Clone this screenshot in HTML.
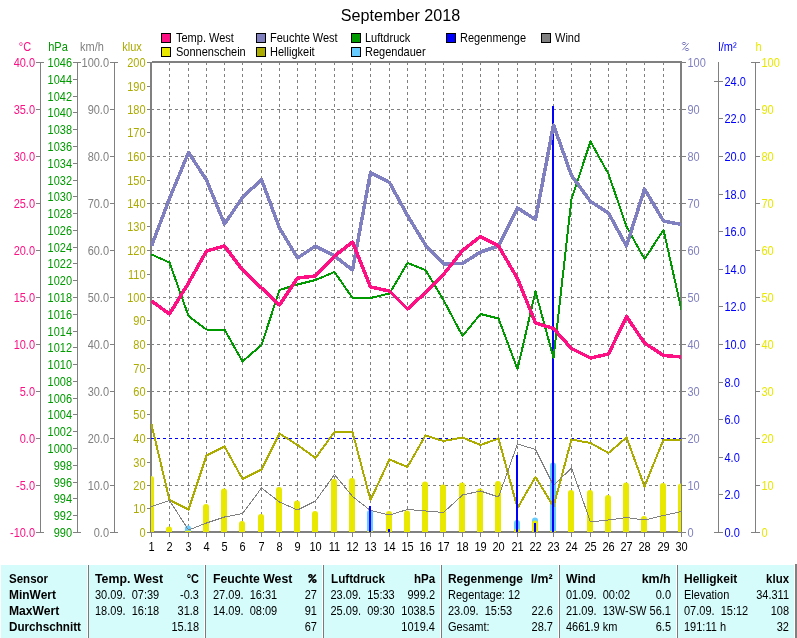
<!DOCTYPE html>
<html><head><meta charset="utf-8"><title>September 2018</title>
<style>
html,body{margin:0;padding:0;background:#fff;}
body{width:797px;height:638px;overflow:hidden;position:relative;font-family:"Liberation Sans",sans-serif;}
#chart{position:absolute;left:0;top:0;will-change:transform;}
#chart text{font-family:"Liberation Sans",sans-serif;font-size:11px;}
#title{will-change:transform;position:absolute;left:0;top:6px;width:801px;text-align:center;font-size:16.15px;line-height:19px;color:#000;}
.lg{will-change:transform;position:absolute;font-size:11px;line-height:12px;color:#000;white-space:nowrap;}
.lg span{display:block;transform:scale(1,1.125);transform-origin:0 10px;}
.lg i{position:absolute;left:-15px;top:1px;width:8px;height:8px;border:1px solid #000;}
#tblbg{position:absolute;left:1px;top:565px;width:793px;height:73px;background:#D5FBFB;}
#tbledge{position:absolute;left:795px;top:564px;width:2px;height:74px;background:#808080;}
#tbl{position:absolute;left:1px;top:565px;width:794px;height:73px;font-size:11px;will-change:transform;}
#tbl .col{position:absolute;top:0;height:73px;border-left:1px solid #7A7A7A;box-shadow:-1px 0 0 #fff;}
#tbl .r{position:absolute;left:6px;right:6px;height:16px;line-height:16px;white-space:nowrap;transform:scale(1,1.125);transform-origin:0 12px;}
#tbl .r b{font-weight:bold;display:inline-block;}
#tbl .r span{position:absolute;right:0;top:0;}
</style></head><body>
<svg id="chart" width="797" height="565" viewBox="0 0 797 565">
<g shape-rendering="crispEdges" fill="#808080">
<rect x="150" y="62" width="2" height="471"/>
<rect x="152" y="61" width="530" height="2"/>
<rect x="680" y="61" width="2" height="472"/>
<rect x="150" y="531" width="532" height="2"/>
<rect x="151" y="533" width="1" height="4"/>
<rect x="169" y="533" width="1" height="4"/>
<rect x="188" y="533" width="1" height="4"/>
<rect x="206" y="533" width="1" height="4"/>
<rect x="224" y="533" width="1" height="4"/>
<rect x="242" y="533" width="1" height="4"/>
<rect x="261" y="533" width="1" height="4"/>
<rect x="279" y="533" width="1" height="4"/>
<rect x="297" y="533" width="1" height="4"/>
<rect x="315" y="533" width="1" height="4"/>
<rect x="334" y="533" width="1" height="4"/>
<rect x="352" y="533" width="1" height="4"/>
<rect x="370" y="533" width="1" height="4"/>
<rect x="389" y="533" width="1" height="4"/>
<rect x="407" y="533" width="1" height="4"/>
<rect x="425" y="533" width="1" height="4"/>
<rect x="443" y="533" width="1" height="4"/>
<rect x="462" y="533" width="1" height="4"/>
<rect x="480" y="533" width="1" height="4"/>
<rect x="498" y="533" width="1" height="4"/>
<rect x="517" y="533" width="1" height="4"/>
<rect x="535" y="533" width="1" height="4"/>
<rect x="553" y="533" width="1" height="4"/>
<rect x="571" y="533" width="1" height="4"/>
<rect x="590" y="533" width="1" height="4"/>
<rect x="608" y="533" width="1" height="4"/>
<rect x="626" y="533" width="1" height="4"/>
<rect x="644" y="533" width="1" height="4"/>
<rect x="663" y="533" width="1" height="4"/>
<rect x="681" y="533" width="1" height="4"/>
<rect x="147" y="62" width="3" height="1"/>
<rect x="147" y="86" width="3" height="1"/>
<rect x="147" y="109" width="3" height="1"/>
<rect x="147" y="132" width="3" height="1"/>
<rect x="147" y="156" width="3" height="1"/>
<rect x="147" y="180" width="3" height="1"/>
<rect x="147" y="203" width="3" height="1"/>
<rect x="147" y="226" width="3" height="1"/>
<rect x="147" y="250" width="3" height="1"/>
<rect x="147" y="274" width="3" height="1"/>
<rect x="147" y="297" width="3" height="1"/>
<rect x="147" y="320" width="3" height="1"/>
<rect x="147" y="344" width="3" height="1"/>
<rect x="147" y="368" width="3" height="1"/>
<rect x="147" y="391" width="3" height="1"/>
<rect x="147" y="414" width="3" height="1"/>
<rect x="147" y="438" width="3" height="1"/>
<rect x="147" y="462" width="3" height="1"/>
<rect x="147" y="485" width="3" height="1"/>
<rect x="147" y="508" width="3" height="1"/>
<rect x="147" y="532" width="3" height="1"/>
<rect x="682" y="62" width="4" height="1"/>
<rect x="682" y="109" width="4" height="1"/>
<rect x="682" y="156" width="4" height="1"/>
<rect x="682" y="203" width="4" height="1"/>
<rect x="682" y="250" width="4" height="1"/>
<rect x="682" y="297" width="4" height="1"/>
<rect x="682" y="344" width="4" height="1"/>
<rect x="682" y="391" width="4" height="1"/>
<rect x="682" y="438" width="4" height="1"/>
<rect x="682" y="485" width="4" height="1"/>
<rect x="682" y="532" width="4" height="1"/>
<rect x="40" y="62" width="1" height="471"/>
<rect x="36" y="62" width="8" height="1"/>
<rect x="36" y="109" width="4" height="1"/>
<rect x="36" y="156" width="4" height="1"/>
<rect x="36" y="203" width="4" height="1"/>
<rect x="36" y="250" width="4" height="1"/>
<rect x="36" y="297" width="4" height="1"/>
<rect x="36" y="344" width="4" height="1"/>
<rect x="36" y="391" width="4" height="1"/>
<rect x="36" y="438" width="4" height="1"/>
<rect x="36" y="485" width="4" height="1"/>
<rect x="36" y="532" width="8" height="1"/>
<rect x="77" y="62" width="1" height="471"/>
<rect x="73" y="62" width="8" height="1"/>
<rect x="73" y="79" width="4" height="1"/>
<rect x="73" y="96" width="4" height="1"/>
<rect x="73" y="112" width="4" height="1"/>
<rect x="73" y="129" width="4" height="1"/>
<rect x="73" y="146" width="4" height="1"/>
<rect x="73" y="163" width="4" height="1"/>
<rect x="73" y="180" width="4" height="1"/>
<rect x="73" y="196" width="4" height="1"/>
<rect x="73" y="213" width="4" height="1"/>
<rect x="73" y="230" width="4" height="1"/>
<rect x="73" y="247" width="4" height="1"/>
<rect x="73" y="263" width="4" height="1"/>
<rect x="73" y="280" width="4" height="1"/>
<rect x="73" y="297" width="4" height="1"/>
<rect x="73" y="314" width="4" height="1"/>
<rect x="73" y="331" width="4" height="1"/>
<rect x="73" y="347" width="4" height="1"/>
<rect x="73" y="364" width="4" height="1"/>
<rect x="73" y="381" width="4" height="1"/>
<rect x="73" y="398" width="4" height="1"/>
<rect x="73" y="414" width="4" height="1"/>
<rect x="73" y="431" width="4" height="1"/>
<rect x="73" y="448" width="4" height="1"/>
<rect x="73" y="465" width="4" height="1"/>
<rect x="73" y="482" width="4" height="1"/>
<rect x="73" y="498" width="4" height="1"/>
<rect x="73" y="515" width="4" height="1"/>
<rect x="73" y="532" width="8" height="1"/>
<rect x="114" y="62" width="1" height="471"/>
<rect x="110" y="62" width="8" height="1"/>
<rect x="110" y="109" width="4" height="1"/>
<rect x="110" y="156" width="4" height="1"/>
<rect x="110" y="203" width="4" height="1"/>
<rect x="110" y="250" width="4" height="1"/>
<rect x="110" y="297" width="4" height="1"/>
<rect x="110" y="344" width="4" height="1"/>
<rect x="110" y="391" width="4" height="1"/>
<rect x="110" y="438" width="4" height="1"/>
<rect x="110" y="485" width="4" height="1"/>
<rect x="110" y="532" width="8" height="1"/>
<rect x="718" y="62" width="1" height="471"/>
<rect x="714" y="532" width="9" height="1"/>
<rect x="719" y="494" width="4" height="1"/>
<rect x="719" y="457" width="4" height="1"/>
<rect x="719" y="419" width="4" height="1"/>
<rect x="719" y="382" width="4" height="1"/>
<rect x="719" y="344" width="4" height="1"/>
<rect x="719" y="306" width="4" height="1"/>
<rect x="719" y="269" width="4" height="1"/>
<rect x="719" y="231" width="4" height="1"/>
<rect x="719" y="194" width="4" height="1"/>
<rect x="719" y="156" width="4" height="1"/>
<rect x="719" y="118" width="4" height="1"/>
<rect x="714" y="81" width="9" height="1"/>
<rect x="755" y="62" width="1" height="471"/>
<rect x="751" y="62" width="9" height="1"/>
<rect x="756" y="109" width="4" height="1"/>
<rect x="756" y="156" width="4" height="1"/>
<rect x="756" y="203" width="4" height="1"/>
<rect x="756" y="250" width="4" height="1"/>
<rect x="756" y="297" width="4" height="1"/>
<rect x="756" y="344" width="4" height="1"/>
<rect x="756" y="391" width="4" height="1"/>
<rect x="756" y="438" width="4" height="1"/>
<rect x="756" y="485" width="4" height="1"/>
<rect x="751" y="532" width="9" height="1"/>
</g>
<g shape-rendering="crispEdges">
<line x1="169.5" y1="62" x2="169.5" y2="531" stroke="#808080" stroke-width="1" stroke-dasharray="3,3"/>
<line x1="188.5" y1="62" x2="188.5" y2="531" stroke="#808080" stroke-width="1" stroke-dasharray="3,3"/>
<line x1="206.5" y1="62" x2="206.5" y2="531" stroke="#808080" stroke-width="1" stroke-dasharray="3,3"/>
<line x1="224.5" y1="62" x2="224.5" y2="531" stroke="#808080" stroke-width="1" stroke-dasharray="3,3"/>
<line x1="242.5" y1="62" x2="242.5" y2="531" stroke="#808080" stroke-width="1" stroke-dasharray="3,3"/>
<line x1="261.5" y1="62" x2="261.5" y2="531" stroke="#808080" stroke-width="1" stroke-dasharray="3,3"/>
<line x1="279.5" y1="62" x2="279.5" y2="531" stroke="#808080" stroke-width="1" stroke-dasharray="3,3"/>
<line x1="297.5" y1="62" x2="297.5" y2="531" stroke="#808080" stroke-width="1" stroke-dasharray="3,3"/>
<line x1="315.5" y1="62" x2="315.5" y2="531" stroke="#808080" stroke-width="1" stroke-dasharray="3,3"/>
<line x1="334.5" y1="62" x2="334.5" y2="531" stroke="#808080" stroke-width="1" stroke-dasharray="3,3"/>
<line x1="352.5" y1="62" x2="352.5" y2="531" stroke="#808080" stroke-width="1" stroke-dasharray="3,3"/>
<line x1="370.5" y1="62" x2="370.5" y2="531" stroke="#808080" stroke-width="1" stroke-dasharray="3,3"/>
<line x1="389.5" y1="62" x2="389.5" y2="531" stroke="#808080" stroke-width="1" stroke-dasharray="3,3"/>
<line x1="407.5" y1="62" x2="407.5" y2="531" stroke="#808080" stroke-width="1" stroke-dasharray="3,3"/>
<line x1="425.5" y1="62" x2="425.5" y2="531" stroke="#808080" stroke-width="1" stroke-dasharray="3,3"/>
<line x1="443.5" y1="62" x2="443.5" y2="531" stroke="#808080" stroke-width="1" stroke-dasharray="3,3"/>
<line x1="462.5" y1="62" x2="462.5" y2="531" stroke="#808080" stroke-width="1" stroke-dasharray="3,3"/>
<line x1="480.5" y1="62" x2="480.5" y2="531" stroke="#808080" stroke-width="1" stroke-dasharray="3,3"/>
<line x1="498.5" y1="62" x2="498.5" y2="531" stroke="#808080" stroke-width="1" stroke-dasharray="3,3"/>
<line x1="517.5" y1="62" x2="517.5" y2="531" stroke="#808080" stroke-width="1" stroke-dasharray="3,3"/>
<line x1="535.5" y1="62" x2="535.5" y2="531" stroke="#808080" stroke-width="1" stroke-dasharray="3,3"/>
<line x1="553.5" y1="62" x2="553.5" y2="531" stroke="#808080" stroke-width="1" stroke-dasharray="3,3"/>
<line x1="571.5" y1="62" x2="571.5" y2="531" stroke="#808080" stroke-width="1" stroke-dasharray="3,3"/>
<line x1="590.5" y1="62" x2="590.5" y2="531" stroke="#808080" stroke-width="1" stroke-dasharray="3,3"/>
<line x1="608.5" y1="62" x2="608.5" y2="531" stroke="#808080" stroke-width="1" stroke-dasharray="3,3"/>
<line x1="626.5" y1="62" x2="626.5" y2="531" stroke="#808080" stroke-width="1" stroke-dasharray="3,3"/>
<line x1="644.5" y1="62" x2="644.5" y2="531" stroke="#808080" stroke-width="1" stroke-dasharray="3,3"/>
<line x1="663.5" y1="62" x2="663.5" y2="531" stroke="#808080" stroke-width="1" stroke-dasharray="3,3"/>
<line x1="151" y1="109.5" x2="680" y2="109.5" stroke="#808080" stroke-width="1" stroke-dasharray="3,3"/>
<line x1="151" y1="156.5" x2="680" y2="156.5" stroke="#808080" stroke-width="1" stroke-dasharray="3,3"/>
<line x1="151" y1="203.5" x2="680" y2="203.5" stroke="#808080" stroke-width="1" stroke-dasharray="3,3"/>
<line x1="151" y1="250.5" x2="680" y2="250.5" stroke="#808080" stroke-width="1" stroke-dasharray="3,3"/>
<line x1="151" y1="297.5" x2="680" y2="297.5" stroke="#808080" stroke-width="1" stroke-dasharray="3,3"/>
<line x1="151" y1="344.5" x2="680" y2="344.5" stroke="#808080" stroke-width="1" stroke-dasharray="3,3"/>
<line x1="151" y1="391.5" x2="680" y2="391.5" stroke="#808080" stroke-width="1" stroke-dasharray="3,3"/>
<line x1="151" y1="438.5" x2="680" y2="438.5" stroke="#808080" stroke-width="1" stroke-dasharray="3,3"/>
<line x1="151" y1="485.5" x2="680" y2="485.5" stroke="#808080" stroke-width="1" stroke-dasharray="3,3"/>
</g>
<clipPath id="cp"><rect x="151" y="63" width="530" height="469"/></clipPath>
<g clip-path="url(#cp)">
<line x1="151" y1="438.5" x2="681" y2="438.5" stroke="#0000FF" stroke-width="1" stroke-dasharray="3,3" shape-rendering="crispEdges"/>
<path d="M185 532 V528.5 A3 3 0 0 1 191 528.5 V532 Z" fill="#66CCFF"/>
<path d="M367 532 V513 A3 3 0 0 1 373 513 V532 Z" fill="#66CCFF"/>
<path d="M514 532 V523 A3 3 0 0 1 520 523 V532 Z" fill="#66CCFF"/>
<path d="M532 532 V520.5 A3 3 0 0 1 538 520.5 V532 Z" fill="#66CCFF"/>
<path d="M550 532 V465.5 A3 3 0 0 1 556 465.5 V532 Z" fill="#66CCFF"/>
<polyline points="151.5,424.5 169.5,500 188.5,509.5 206.5,455.5 224.5,446.5 242.5,479 261.5,469.5 279.5,433.5 297.5,445 315.5,458 334.5,432 352.5,432 370.5,500 389.5,459.5 407.5,467 425.5,435.5 443.5,441 462.5,437.5 480.5,445 498.5,438.5 517.5,508 535.5,477 553.5,506.5 571.5,439.5 590.5,443 608.5,453 626.5,437.5 644.5,486.5 663.5,439.5 681.5,439.5" fill="none" stroke="#ACAC00" stroke-width="2" stroke-linejoin="round" shape-rendering="crispEdges"/>
<path d="M148 532 V479 A3 3 0 0 1 154 479 V532 Z" fill="#E8E800"/>
<path d="M166 532 V529.5 A3 3 0 0 1 172 529.5 V532 Z" fill="#E8E800"/>
<ellipse cx="188" cy="532" rx="3" ry="1.5" fill="#E8E800"/>
<path d="M203 532 V507 A3 3 0 0 1 209 507 V532 Z" fill="#E8E800"/>
<path d="M221 532 V491.5 A3 3 0 0 1 227 491.5 V532 Z" fill="#E8E800"/>
<path d="M239 532 V524 A3 3 0 0 1 245 524 V532 Z" fill="#E8E800"/>
<path d="M258 532 V517 A3 3 0 0 1 264 517 V532 Z" fill="#E8E800"/>
<path d="M276 532 V490 A3 3 0 0 1 282 490 V532 Z" fill="#E8E800"/>
<path d="M294 532 V503.5 A3 3 0 0 1 300 503.5 V532 Z" fill="#E8E800"/>
<path d="M312 532 V514 A3 3 0 0 1 318 514 V532 Z" fill="#E8E800"/>
<path d="M331 532 V482 A3 3 0 0 1 337 482 V532 Z" fill="#E8E800"/>
<path d="M349 532 V481 A3 3 0 0 1 355 481 V532 Z" fill="#E8E800"/>
<ellipse cx="370" cy="532" rx="3" ry="1.5" fill="#E8E800"/>
<path d="M386 532 V514 A3 3 0 0 1 392 514 V532 Z" fill="#E8E800"/>
<path d="M404 532 V513.5 A3 3 0 0 1 410 513.5 V532 Z" fill="#E8E800"/>
<path d="M422 532 V484.5 A3 3 0 0 1 428 484.5 V532 Z" fill="#E8E800"/>
<path d="M440 532 V487.5 A3 3 0 0 1 446 487.5 V532 Z" fill="#E8E800"/>
<path d="M459 532 V485.5 A3 3 0 0 1 465 485.5 V532 Z" fill="#E8E800"/>
<path d="M477 532 V491.5 A3 3 0 0 1 483 491.5 V532 Z" fill="#E8E800"/>
<path d="M495 532 V484 A3 3 0 0 1 501 484 V532 Z" fill="#E8E800"/>
<path d="M514 532 V531.5 A3 3 0 0 1 520 531.5 V532 Z" fill="#E8E800"/>
<path d="M532 532 V523.5 A3 3 0 0 1 538 523.5 V532 Z" fill="#E8E800"/>
<ellipse cx="553" cy="532" rx="3" ry="1.5" fill="#E8E800"/>
<path d="M568 532 V493 A3 3 0 0 1 574 493 V532 Z" fill="#E8E800"/>
<path d="M587 532 V493 A3 3 0 0 1 593 493 V532 Z" fill="#E8E800"/>
<path d="M605 532 V498 A3 3 0 0 1 611 498 V532 Z" fill="#E8E800"/>
<path d="M623 532 V485.5 A3 3 0 0 1 629 485.5 V532 Z" fill="#E8E800"/>
<path d="M641 532 V519 A3 3 0 0 1 647 519 V532 Z" fill="#E8E800"/>
<path d="M660 532 V486 A3 3 0 0 1 666 486 V532 Z" fill="#E8E800"/>
<path d="M678 532 V486.5 A3 3 0 0 1 684 486.5 V532 Z" fill="#E8E800"/>
<polyline points="151.5,506.5 169.5,500.5 188.5,530 206.5,523 224.5,517 242.5,513.5 261.5,488 279.5,502 297.5,510 315.5,501 334.5,474.5 352.5,496.5 370.5,510.5 389.5,515 407.5,509.5 425.5,511 443.5,512.5 462.5,495 480.5,491 498.5,497 517.5,444 535.5,449.5 553.5,485.5 571.5,468 590.5,522 608.5,520 626.5,517.5 644.5,520 663.5,515.5 681.5,511.5" fill="none" stroke="#808080" stroke-width="1" stroke-linejoin="round" shape-rendering="crispEdges"/>
<rect x="369" y="506" width="2" height="26" fill="#0000FF" shape-rendering="crispEdges"/>
<rect x="388" y="529" width="2" height="3" fill="#0000FF" shape-rendering="crispEdges"/>
<rect x="516" y="455" width="2" height="77" fill="#0000FF" shape-rendering="crispEdges"/>
<rect x="534" y="523" width="2" height="9" fill="#0000FF" shape-rendering="crispEdges"/>
<rect x="552" y="105.5" width="2" height="426.5" fill="#0000FF" shape-rendering="crispEdges"/>
<polyline points="151.5,254.5 169.5,262.5 188.5,316 206.5,329.5 224.5,329.5 242.5,361.5 261.5,345 279.5,290 297.5,284.5 315.5,280 334.5,272 352.5,298 370.5,298 389.5,293.5 407.5,263 425.5,270 443.5,300 462.5,336 480.5,314 498.5,318.5 517.5,369 535.5,291.5 553.5,358 571.5,199 590.5,141.5 608.5,174 626.5,226.5 644.5,259 663.5,230 681.5,310" fill="none" stroke="#009900" stroke-width="2" stroke-linejoin="round" shape-rendering="crispEdges"/>
<polyline points="151.5,246 169.5,198.5 188.5,152.5 206.5,180 224.5,224 242.5,197.5 261.5,179.5 279.5,228 297.5,258 315.5,246 334.5,256 352.5,270 370.5,172.5 389.5,182.5 407.5,215.5 425.5,245 443.5,264 462.5,263.5 480.5,252 498.5,246 517.5,208 535.5,219.5 553.5,125 571.5,175.5 590.5,201.5 608.5,213 626.5,246 644.5,189 663.5,221 681.5,224.5" fill="none" stroke="#8080C0" stroke-width="3.5" stroke-linejoin="round" shape-rendering="crispEdges"/>
<polyline points="151.5,301 169.5,314 188.5,283 206.5,251 224.5,246 242.5,270 261.5,288 279.5,305 297.5,278 315.5,276 334.5,256 352.5,242 370.5,287 389.5,291 407.5,309 425.5,292.5 443.5,274.5 462.5,250.5 480.5,236.5 498.5,246 517.5,278.5 535.5,323 553.5,328.5 571.5,348.5 590.5,358 608.5,354 626.5,316.5 644.5,343 663.5,355.5 681.5,357" fill="none" stroke="#FC1084" stroke-width="3.5" stroke-linejoin="round" shape-rendering="crispEdges"/>
</g>
<text transform="translate(35,67) scale(1,1.125)" fill="#FC1084" text-anchor="end">40.0</text>
<text transform="translate(35,114) scale(1,1.125)" fill="#FC1084" text-anchor="end">35.0</text>
<text transform="translate(35,161) scale(1,1.125)" fill="#FC1084" text-anchor="end">30.0</text>
<text transform="translate(35,208) scale(1,1.125)" fill="#FC1084" text-anchor="end">25.0</text>
<text transform="translate(35,255) scale(1,1.125)" fill="#FC1084" text-anchor="end">20.0</text>
<text transform="translate(35,302) scale(1,1.125)" fill="#FC1084" text-anchor="end">15.0</text>
<text transform="translate(35,349) scale(1,1.125)" fill="#FC1084" text-anchor="end">10.0</text>
<text transform="translate(35,396) scale(1,1.125)" fill="#FC1084" text-anchor="end">5.0</text>
<text transform="translate(35,443) scale(1,1.125)" fill="#FC1084" text-anchor="end">0.0</text>
<text transform="translate(35,490) scale(1,1.125)" fill="#FC1084" text-anchor="end">-5.0</text>
<text transform="translate(35,537) scale(1,1.125)" fill="#FC1084" text-anchor="end">-10.0</text>
<text transform="translate(72,67) scale(1,1.125)" fill="#009900" text-anchor="end">1046</text>
<text transform="translate(72,84) scale(1,1.125)" fill="#009900" text-anchor="end">1044</text>
<text transform="translate(72,101) scale(1,1.125)" fill="#009900" text-anchor="end">1042</text>
<text transform="translate(72,117) scale(1,1.125)" fill="#009900" text-anchor="end">1040</text>
<text transform="translate(72,134) scale(1,1.125)" fill="#009900" text-anchor="end">1038</text>
<text transform="translate(72,151) scale(1,1.125)" fill="#009900" text-anchor="end">1036</text>
<text transform="translate(72,168) scale(1,1.125)" fill="#009900" text-anchor="end">1034</text>
<text transform="translate(72,185) scale(1,1.125)" fill="#009900" text-anchor="end">1032</text>
<text transform="translate(72,201) scale(1,1.125)" fill="#009900" text-anchor="end">1030</text>
<text transform="translate(72,218) scale(1,1.125)" fill="#009900" text-anchor="end">1028</text>
<text transform="translate(72,235) scale(1,1.125)" fill="#009900" text-anchor="end">1026</text>
<text transform="translate(72,252) scale(1,1.125)" fill="#009900" text-anchor="end">1024</text>
<text transform="translate(72,268) scale(1,1.125)" fill="#009900" text-anchor="end">1022</text>
<text transform="translate(72,285) scale(1,1.125)" fill="#009900" text-anchor="end">1020</text>
<text transform="translate(72,302) scale(1,1.125)" fill="#009900" text-anchor="end">1018</text>
<text transform="translate(72,319) scale(1,1.125)" fill="#009900" text-anchor="end">1016</text>
<text transform="translate(72,336) scale(1,1.125)" fill="#009900" text-anchor="end">1014</text>
<text transform="translate(72,352) scale(1,1.125)" fill="#009900" text-anchor="end">1012</text>
<text transform="translate(72,369) scale(1,1.125)" fill="#009900" text-anchor="end">1010</text>
<text transform="translate(72,386) scale(1,1.125)" fill="#009900" text-anchor="end">1008</text>
<text transform="translate(72,403) scale(1,1.125)" fill="#009900" text-anchor="end">1006</text>
<text transform="translate(72,419) scale(1,1.125)" fill="#009900" text-anchor="end">1004</text>
<text transform="translate(72,436) scale(1,1.125)" fill="#009900" text-anchor="end">1002</text>
<text transform="translate(72,453) scale(1,1.125)" fill="#009900" text-anchor="end">1000</text>
<text transform="translate(72,470) scale(1,1.125)" fill="#009900" text-anchor="end">998</text>
<text transform="translate(72,487) scale(1,1.125)" fill="#009900" text-anchor="end">996</text>
<text transform="translate(72,503) scale(1,1.125)" fill="#009900" text-anchor="end">994</text>
<text transform="translate(72,520) scale(1,1.125)" fill="#009900" text-anchor="end">992</text>
<text transform="translate(72,537) scale(1,1.125)" fill="#009900" text-anchor="end">990</text>
<text transform="translate(109,67) scale(1,1.125)" fill="#808080" text-anchor="end">100.0</text>
<text transform="translate(109,114) scale(1,1.125)" fill="#808080" text-anchor="end">90.0</text>
<text transform="translate(109,161) scale(1,1.125)" fill="#808080" text-anchor="end">80.0</text>
<text transform="translate(109,208) scale(1,1.125)" fill="#808080" text-anchor="end">70.0</text>
<text transform="translate(109,255) scale(1,1.125)" fill="#808080" text-anchor="end">60.0</text>
<text transform="translate(109,302) scale(1,1.125)" fill="#808080" text-anchor="end">50.0</text>
<text transform="translate(109,349) scale(1,1.125)" fill="#808080" text-anchor="end">40.0</text>
<text transform="translate(109,396) scale(1,1.125)" fill="#808080" text-anchor="end">30.0</text>
<text transform="translate(109,443) scale(1,1.125)" fill="#808080" text-anchor="end">20.0</text>
<text transform="translate(109,490) scale(1,1.125)" fill="#808080" text-anchor="end">10.0</text>
<text transform="translate(109,537) scale(1,1.125)" fill="#808080" text-anchor="end">0.0</text>
<text transform="translate(145.5,67) scale(1,1.125)" fill="#ACAC00" text-anchor="end">200</text>
<text transform="translate(145.5,91) scale(1,1.125)" fill="#ACAC00" text-anchor="end">190</text>
<text transform="translate(145.5,114) scale(1,1.125)" fill="#ACAC00" text-anchor="end">180</text>
<text transform="translate(145.5,137) scale(1,1.125)" fill="#ACAC00" text-anchor="end">170</text>
<text transform="translate(145.5,161) scale(1,1.125)" fill="#ACAC00" text-anchor="end">160</text>
<text transform="translate(145.5,185) scale(1,1.125)" fill="#ACAC00" text-anchor="end">150</text>
<text transform="translate(145.5,208) scale(1,1.125)" fill="#ACAC00" text-anchor="end">140</text>
<text transform="translate(145.5,231) scale(1,1.125)" fill="#ACAC00" text-anchor="end">130</text>
<text transform="translate(145.5,255) scale(1,1.125)" fill="#ACAC00" text-anchor="end">120</text>
<text transform="translate(145.5,279) scale(1,1.125)" fill="#ACAC00" text-anchor="end">110</text>
<text transform="translate(145.5,302) scale(1,1.125)" fill="#ACAC00" text-anchor="end">100</text>
<text transform="translate(145.5,325) scale(1,1.125)" fill="#ACAC00" text-anchor="end">90</text>
<text transform="translate(145.5,349) scale(1,1.125)" fill="#ACAC00" text-anchor="end">80</text>
<text transform="translate(145.5,373) scale(1,1.125)" fill="#ACAC00" text-anchor="end">70</text>
<text transform="translate(145.5,396) scale(1,1.125)" fill="#ACAC00" text-anchor="end">60</text>
<text transform="translate(145.5,419) scale(1,1.125)" fill="#ACAC00" text-anchor="end">50</text>
<text transform="translate(145.5,443) scale(1,1.125)" fill="#ACAC00" text-anchor="end">40</text>
<text transform="translate(145.5,467) scale(1,1.125)" fill="#ACAC00" text-anchor="end">30</text>
<text transform="translate(145.5,490) scale(1,1.125)" fill="#ACAC00" text-anchor="end">20</text>
<text transform="translate(145.5,513) scale(1,1.125)" fill="#ACAC00" text-anchor="end">10</text>
<text transform="translate(145.5,537) scale(1,1.125)" fill="#ACAC00" text-anchor="end">0</text>
<text transform="translate(687.5,67) scale(1,1.125)" fill="#8080C0" text-anchor="start">100</text>
<text transform="translate(687.5,114) scale(1,1.125)" fill="#8080C0" text-anchor="start">90</text>
<text transform="translate(687.5,161) scale(1,1.125)" fill="#8080C0" text-anchor="start">80</text>
<text transform="translate(687.5,208) scale(1,1.125)" fill="#8080C0" text-anchor="start">70</text>
<text transform="translate(687.5,255) scale(1,1.125)" fill="#8080C0" text-anchor="start">60</text>
<text transform="translate(687.5,302) scale(1,1.125)" fill="#8080C0" text-anchor="start">50</text>
<text transform="translate(687.5,349) scale(1,1.125)" fill="#8080C0" text-anchor="start">40</text>
<text transform="translate(687.5,396) scale(1,1.125)" fill="#8080C0" text-anchor="start">30</text>
<text transform="translate(687.5,443) scale(1,1.125)" fill="#8080C0" text-anchor="start">20</text>
<text transform="translate(687.5,490) scale(1,1.125)" fill="#8080C0" text-anchor="start">10</text>
<text transform="translate(687.5,537) scale(1,1.125)" fill="#8080C0" text-anchor="start">0</text>
<text transform="translate(724.5,537) scale(1,1.125)" fill="#0000FF" text-anchor="start">0.0</text>
<text transform="translate(724.5,499) scale(1,1.125)" fill="#0000FF" text-anchor="start">2.0</text>
<text transform="translate(724.5,462) scale(1,1.125)" fill="#0000FF" text-anchor="start">4.0</text>
<text transform="translate(724.5,424) scale(1,1.125)" fill="#0000FF" text-anchor="start">6.0</text>
<text transform="translate(724.5,387) scale(1,1.125)" fill="#0000FF" text-anchor="start">8.0</text>
<text transform="translate(724.5,349) scale(1,1.125)" fill="#0000FF" text-anchor="start">10.0</text>
<text transform="translate(724.5,311) scale(1,1.125)" fill="#0000FF" text-anchor="start">12.0</text>
<text transform="translate(724.5,274) scale(1,1.125)" fill="#0000FF" text-anchor="start">14.0</text>
<text transform="translate(724.5,236) scale(1,1.125)" fill="#0000FF" text-anchor="start">16.0</text>
<text transform="translate(724.5,199) scale(1,1.125)" fill="#0000FF" text-anchor="start">18.0</text>
<text transform="translate(724.5,161) scale(1,1.125)" fill="#0000FF" text-anchor="start">20.0</text>
<text transform="translate(724.5,123) scale(1,1.125)" fill="#0000FF" text-anchor="start">22.0</text>
<text transform="translate(724.5,86) scale(1,1.125)" fill="#0000FF" text-anchor="start">24.0</text>
<text transform="translate(761.5,67) scale(1,1.125)" fill="#E8E800" text-anchor="start">100</text>
<text transform="translate(761.5,114) scale(1,1.125)" fill="#E8E800" text-anchor="start">90</text>
<text transform="translate(761.5,161) scale(1,1.125)" fill="#E8E800" text-anchor="start">80</text>
<text transform="translate(761.5,208) scale(1,1.125)" fill="#E8E800" text-anchor="start">70</text>
<text transform="translate(761.5,255) scale(1,1.125)" fill="#E8E800" text-anchor="start">60</text>
<text transform="translate(761.5,302) scale(1,1.125)" fill="#E8E800" text-anchor="start">50</text>
<text transform="translate(761.5,349) scale(1,1.125)" fill="#E8E800" text-anchor="start">40</text>
<text transform="translate(761.5,396) scale(1,1.125)" fill="#E8E800" text-anchor="start">30</text>
<text transform="translate(761.5,443) scale(1,1.125)" fill="#E8E800" text-anchor="start">20</text>
<text transform="translate(761.5,490) scale(1,1.125)" fill="#E8E800" text-anchor="start">10</text>
<text transform="translate(761.5,537) scale(1,1.125)" fill="#E8E800" text-anchor="start">0</text>
<text transform="translate(151.5,551) scale(1,1.125)" fill="#000" text-anchor="middle">1</text>
<text transform="translate(169.5,551) scale(1,1.125)" fill="#000" text-anchor="middle">2</text>
<text transform="translate(188.5,551) scale(1,1.125)" fill="#000" text-anchor="middle">3</text>
<text transform="translate(206.5,551) scale(1,1.125)" fill="#000" text-anchor="middle">4</text>
<text transform="translate(224.5,551) scale(1,1.125)" fill="#000" text-anchor="middle">5</text>
<text transform="translate(242.5,551) scale(1,1.125)" fill="#000" text-anchor="middle">6</text>
<text transform="translate(261.5,551) scale(1,1.125)" fill="#000" text-anchor="middle">7</text>
<text transform="translate(279.5,551) scale(1,1.125)" fill="#000" text-anchor="middle">8</text>
<text transform="translate(297.5,551) scale(1,1.125)" fill="#000" text-anchor="middle">9</text>
<text transform="translate(315.5,551) scale(1,1.125)" fill="#000" text-anchor="middle">10</text>
<text transform="translate(334.5,551) scale(1,1.125)" fill="#000" text-anchor="middle">11</text>
<text transform="translate(352.5,551) scale(1,1.125)" fill="#000" text-anchor="middle">12</text>
<text transform="translate(370.5,551) scale(1,1.125)" fill="#000" text-anchor="middle">13</text>
<text transform="translate(389.5,551) scale(1,1.125)" fill="#000" text-anchor="middle">14</text>
<text transform="translate(407.5,551) scale(1,1.125)" fill="#000" text-anchor="middle">15</text>
<text transform="translate(425.5,551) scale(1,1.125)" fill="#000" text-anchor="middle">16</text>
<text transform="translate(443.5,551) scale(1,1.125)" fill="#000" text-anchor="middle">17</text>
<text transform="translate(462.5,551) scale(1,1.125)" fill="#000" text-anchor="middle">18</text>
<text transform="translate(480.5,551) scale(1,1.125)" fill="#000" text-anchor="middle">19</text>
<text transform="translate(498.5,551) scale(1,1.125)" fill="#000" text-anchor="middle">20</text>
<text transform="translate(517.5,551) scale(1,1.125)" fill="#000" text-anchor="middle">21</text>
<text transform="translate(535.5,551) scale(1,1.125)" fill="#000" text-anchor="middle">22</text>
<text transform="translate(553.5,551) scale(1,1.125)" fill="#000" text-anchor="middle">23</text>
<text transform="translate(571.5,551) scale(1,1.125)" fill="#000" text-anchor="middle">24</text>
<text transform="translate(590.5,551) scale(1,1.125)" fill="#000" text-anchor="middle">25</text>
<text transform="translate(608.5,551) scale(1,1.125)" fill="#000" text-anchor="middle">26</text>
<text transform="translate(626.5,551) scale(1,1.125)" fill="#000" text-anchor="middle">27</text>
<text transform="translate(644.5,551) scale(1,1.125)" fill="#000" text-anchor="middle">28</text>
<text transform="translate(663.5,551) scale(1,1.125)" fill="#000" text-anchor="middle">29</text>
<text transform="translate(681.5,551) scale(1,1.125)" fill="#000" text-anchor="middle">30</text>
<text transform="translate(25,51) scale(1,1.125)" fill="#FC1084" text-anchor="middle">°C</text>
<text transform="translate(58,51) scale(1,1.125)" fill="#009900" text-anchor="middle">hPa</text>
<text transform="translate(92,51) scale(1,1.125)" fill="#808080" text-anchor="middle">km/h</text>
<text transform="translate(132,51) scale(1,1.125)" fill="#ACAC00" text-anchor="middle">klux</text>
<g fill="none" stroke="#8080C0" stroke-width="1"><ellipse cx="684" cy="43.5" rx="1.7" ry="1.1"/><ellipse cx="687" cy="49.5" rx="1.7" ry="1.1"/><path d="M682.4 50.2 L688.6 43.2"/></g>
<text transform="translate(727.5,51) scale(1,1.125)" fill="#0000FF" text-anchor="middle">l/m²</text>
<text transform="translate(758.5,51) scale(1,1.125)" fill="#E8E800" text-anchor="middle">h</text>
</svg>
<div id="title">September 2018</div>
<div class="lg" style="left:176px;top:32px"><i style="background:#FC1084"></i><span>Temp. West</span></div>
<div class="lg" style="left:270px;top:32px"><i style="background:#8080C0;left:-14px"></i><span>Feuchte West</span></div>
<div class="lg" style="left:365px;top:32px"><i style="background:#009900;left:-14px"></i><span>Luftdruck</span></div>
<div class="lg" style="left:460px;top:32px"><i style="background:#0000FF;left:-14px"></i><span>Regenmenge</span></div>
<div class="lg" style="left:555px;top:32px"><i style="background:#808080;left:-14px"></i><span>Wind</span></div>
<div class="lg" style="left:176px;top:46px"><i style="background:#E8E800"></i><span>Sonnenschein</span></div>
<div class="lg" style="left:270px;top:46px"><i style="background:#ACAC00;left:-14px"></i><span>Helligkeit</span></div>
<div class="lg" style="left:365px;top:46px"><i style="background:#66CCFF;left:-14px"></i><span>Regendauer</span></div>
<div id="tblbg"></div><div id="tbledge"></div>
<div id="tbl">
<div class="col" style="left:0px;width:86px;border-left:1px solid transparent;box-shadow:none;">
<div class="r" style="top:6px;left:7px"><b style="transform:scaleX(1.048);transform-origin:0 50%">Sensor</b></div>
<div class="r" style="top:22px;left:7px"><b style="transform:scaleX(1.086);transform-origin:0 50%">MinWert</b></div>
<div class="r" style="top:38px;left:7px"><b style="transform:scaleX(1.104);transform-origin:0 50%">MaxWert</b></div>
<div class="r" style="top:54px;left:7px"><b style="transform:scaleX(1.061);transform-origin:0 50%">Durchschnitt</b></div>
</div>
<div class="col" style="left:87px;width:116px;">
<div class="r" style="top:6px"><b style="transform:scaleX(1.12);transform-origin:0 50%">Temp. West</b><span><b style="transform:scaleX(1);transform-origin:100% 50%">°C</b></span></div>
<div class="r" style="top:22px">30.09.&nbsp; 07:39<span>-0.3</span></div>
<div class="r" style="top:38px">18.09.&nbsp; 16:18<span>31.8</span></div>
<div class="r" style="top:54px"><span>15.18</span></div>
</div>
<div class="col" style="left:204px;width:117px;">
<div class="r" style="top:6px;left:7px"><b style="transform:scaleX(1.112);transform-origin:0 50%">Feuchte West</b></div>
<div class="r" style="top:22px;left:7px">27.09.&nbsp; 16:31<span>27</span></div>
<div class="r" style="top:38px;left:7px">14.09.&nbsp; 08:09<span>91</span></div>
<div class="r" style="top:54px;left:7px"><span>67</span></div>
</div>
<div class="col" style="left:322px;width:117px;">
<div class="r" style="top:6px;left:6.5px"><b style="transform:scaleX(1.064);transform-origin:0 50%">Luftdruck</b><span><b style="transform:scaleX(1.05);transform-origin:100% 50%">hPa</b></span></div>
<div class="r" style="top:22px;left:6.5px">23.09.&nbsp; 15:33<span>999.2</span></div>
<div class="r" style="top:38px;left:6.5px">25.09.&nbsp; 09:30<span>1038.5</span></div>
<div class="r" style="top:54px;left:6.5px"><span>1019.4</span></div>
</div>
<div class="col" style="left:440px;width:117px;">
<div class="r" style="top:6px"><b style="transform:scaleX(1.083);transform-origin:0 50%">Regenmenge</b><span><b style="transform:scaleX(1.12);transform-origin:100% 50%">l/m²</b></span></div>
<div class="r" style="top:22px">Regentage: 12</div>
<div class="r" style="top:38px">23.09.&nbsp; 15:53<span>22.6</span></div>
<div class="r" style="top:54px">Gesamt:<span>28.7</span></div>
</div>
<div class="col" style="left:558px;width:117px;">
<div class="r" style="top:6px"><b style="transform:scaleX(1.11);transform-origin:0 50%">Wind</b><span><b style="transform:scaleX(1.13);transform-origin:100% 50%">km/h</b></span></div>
<div class="r" style="top:22px">01.09.&nbsp; 00:02<span>0.0</span></div>
<div class="r" style="top:38px">21.09.&nbsp; 13W-SW<span>56.1</span></div>
<div class="r" style="top:54px">4661.9 km<span>6.5</span></div>
</div>
<div class="col" style="left:676px;width:117px;">
<div class="r" style="top:6px"><b style="transform:scaleX(1.088);transform-origin:0 50%">Helligkeit</b><span><b style="transform:scaleX(1.04);transform-origin:100% 50%">klux</b></span></div>
<div class="r" style="top:22px">Elevation<span>34.311</span></div>
<div class="r" style="top:38px">07.09.&nbsp; 15:12<span>108</span></div>
<div class="r" style="top:54px">191:11 h<span>32</span></div>
</div>
<svg style="position:absolute;left:307px;top:9px" width="9" height="9" viewBox="0 0 9 9"><g fill="none" stroke="#000" stroke-width="1.5"><ellipse cx="2.4" cy="2" rx="1.6" ry="1.3"/><ellipse cx="6.4" cy="7" rx="1.6" ry="1.3"/><path d="M0.9 8.4 L7.7 0.6"/></g></svg>
</div>
</body></html>
